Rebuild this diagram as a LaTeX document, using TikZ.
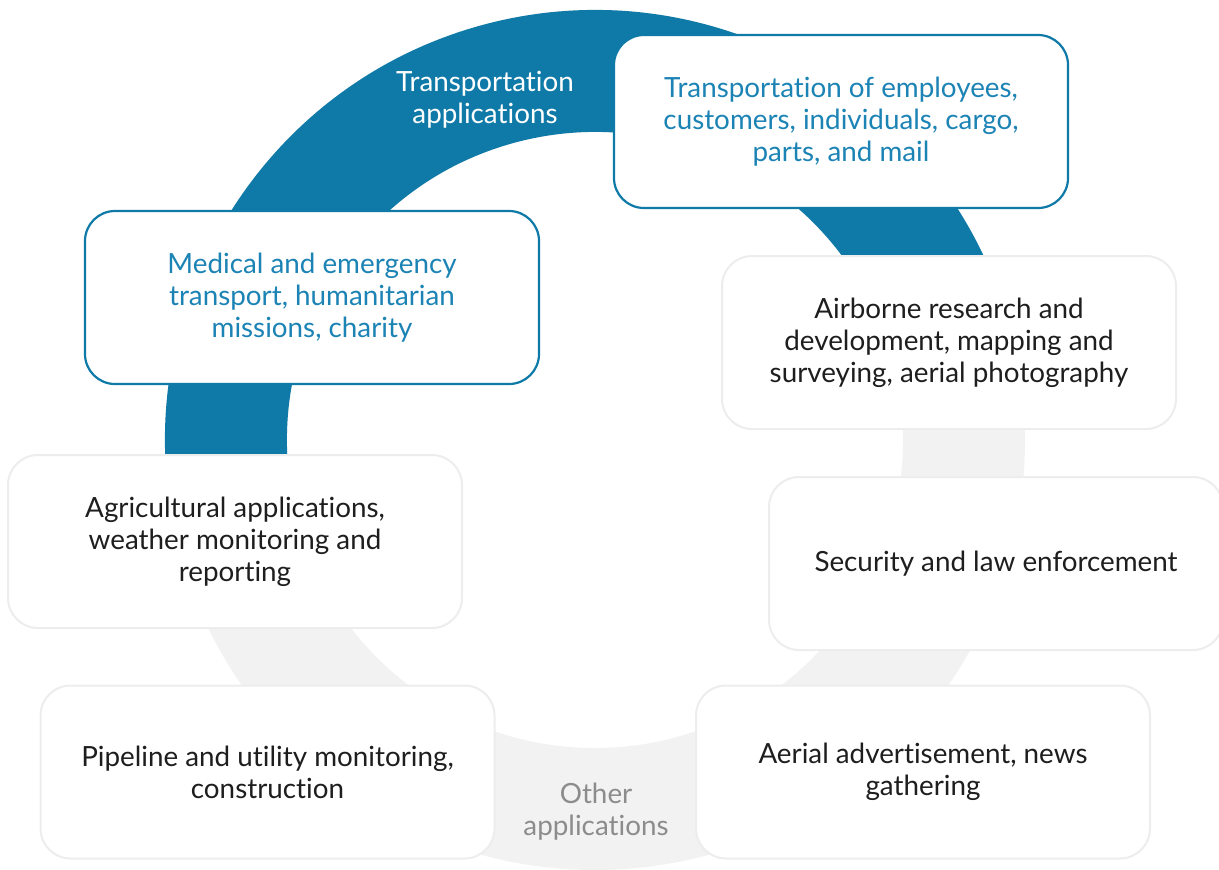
\documentclass[tikz,border=0pt]{standalone}
\usepackage{fontspec}
\setmainfont{Lato}[Ligatures=NoCommon]
\usepackage{xcolor}
\usepackage{tikz}
\usetikzlibrary{positioning, calc}
\definecolor{ringblue}{HTML}{0F7AA8}
\definecolor{textblue}{HTML}{1C83B5}
\definecolor{ringgray}{HTML}{F2F2F2}
\definecolor{boxgray}{HTML}{EDEDED}
\definecolor{othergray}{HTML}{8C8C8C}
\definecolor{text}{HTML}{1E1E1E}

\begin{document}
\begin{tikzpicture}[x=0.5pt, y=-0.5pt,
      app/.style={rectangle, rounded corners=15pt, draw=boxgray, line width=1pt,
        fill=white, minimum width=227pt, minimum height=86.5pt,
        align=center, font=\fontsize{13.9}{16}\selectfont, text=text},
      hot/.style={app, draw=ringblue, line width=1.1pt, text=textblue},
      ringlabel/.style={align=center, font=\fontsize{13.9}{16}\selectfont}]

    \useasboundingbox (0,0) rectangle (1219,869);
    \coordinate (c) at (595,440);

    % ring
    \draw[ringgray, line width=61pt] (c) circle[radius=369];
    \draw[ringblue, line width=61pt] ($(c)+(-15:369)$)
      arc[start angle=-15, end angle=-195, radius=369];

    \node[ringlabel, text=white] (tlab) at (485,100) {Transportation\\applications};
    \node[ringlabel, text=othergray] (olab) at (596,812) {Other\\applications};

    % boxes
    \node[hot] (emp) at (841,121.5) {Transportation of employees,\\customers, individuals, cargo,\\parts, and mail};
    \node[hot] (med) at (312,297.5) {Medical and emergency\\transport, humanitarian\\missions, charity};
    \node[app] (air) at (949,342.5) {Airborne research and\\development, mapping and\\surveying, aerial photography};
    \node[app] (sec) at (996,563.5) {Security and law enforcement};
    \node[app] (agr) at (235,541.5) {Agricultural applications,\\weather monitoring and\\reporting};
    \node[app] (pip) at (267.5,772) {Pipeline and utility monitoring,\\construction};
    \node[app] (adv) at (923,772) {Aerial advertisement, news\\gathering};
  \end{tikzpicture}
\end{document}
